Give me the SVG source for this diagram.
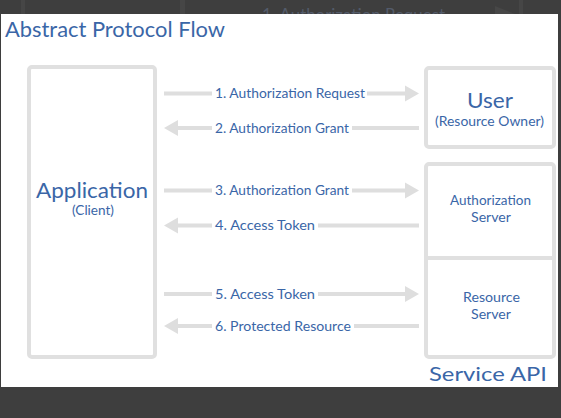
<svg xmlns="http://www.w3.org/2000/svg" width="561" height="418" viewBox="0 0 561 418">
<defs>
<style>
.t{font-family:Lato,"Open Sans","Liberation Sans",sans-serif;fill:#3a66a7}
.box{fill:#ffffff;stroke:#e0e0e0;stroke-width:4}
.ln{stroke:#dedede;stroke-width:4;fill:none}
.hd{fill:#dedede}
.lbl{font-size:13px}
</style>
</defs>
<rect x="0" y="0" width="561" height="418" fill="#3e3e3e"/>
<g id="ghost">
<rect x="21" y="0" width="4" height="14" fill="#464646"/>
<rect x="180" y="0" width="5" height="14" fill="#464646"/>
<rect x="519" y="0" width="4" height="14" fill="#464646"/>
<text x="262" y="21" font-family="Lato,'Liberation Sans',sans-serif" font-size="17" fill="#535b6a" textLength="183" lengthAdjust="spacingAndGlyphs">1. Authorization Request</text>
<polygon points="495,6 515,14 495,14" fill="#474747"/>
</g>
<rect x="1" y="14" width="557" height="373" fill="#ffffff"/>
<text class="t" x="5" y="37" font-size="22" textLength="220" lengthAdjust="spacingAndGlyphs">Abstract Protocol Flow</text>
<g id="application">
<rect class="box" x="29" y="67" width="126" height="290" rx="3"/>
<text class="t" x="36" y="198" font-size="21" textLength="112" lengthAdjust="spacingAndGlyphs">Application</text>
<text class="t" x="72" y="215" font-size="12.5" textLength="42" lengthAdjust="spacingAndGlyphs">(Client)</text>
</g>
<g id="user">
<rect class="box" x="426" y="68" width="128" height="79" rx="3"/>
<text class="t" x="467" y="108" font-size="22" textLength="46" lengthAdjust="spacingAndGlyphs">User</text>
<text class="t" x="435" y="125.5" font-size="12.5" textLength="109" lengthAdjust="spacingAndGlyphs">(Resource Owner)</text>
</g>
<g id="service-api">
<rect class="box" x="426" y="164" width="128" height="193" rx="3"/>
<line x1="426" y1="258" x2="554" y2="258" stroke="#e0e0e0" stroke-width="4"/>
<text class="t" x="429" y="381" font-size="20" textLength="118" lengthAdjust="spacingAndGlyphs">Service API</text>
</g>
<g id="authorization-server">
<text class="t" x="450" y="205" font-size="13" textLength="81" lengthAdjust="spacingAndGlyphs">Authorization</text>
<text class="t" x="471" y="222" font-size="13" textLength="40" lengthAdjust="spacingAndGlyphs">Server</text>
</g>
<g id="resource-server">
<text class="t" x="463" y="302" font-size="13" textLength="57" lengthAdjust="spacingAndGlyphs">Resource</text>
<text class="t" x="471" y="318.5" font-size="13" textLength="40" lengthAdjust="spacingAndGlyphs">Server</text>
</g>
<g id="connectors">
<line class="ln" x1="164" y1="93.5" x2="212" y2="93.5"/>
<line class="ln" x1="367" y1="93.5" x2="406" y2="93.5"/>
<polygon class="hd" points="405,85.5 419,93.5 405,101.5"/>
<text class="t lbl" x="215" y="98" textLength="150" lengthAdjust="spacingAndGlyphs">1. Authorization Request</text>
<polygon class="hd" points="178,120 164,128 178,136"/>
<line class="ln" x1="177" y1="128" x2="212" y2="128"/>
<line class="ln" x1="352" y1="128" x2="419" y2="128"/>
<text class="t lbl" x="215" y="132.5" textLength="134" lengthAdjust="spacingAndGlyphs">2. Authorization Grant</text>
<line class="ln" x1="164" y1="190.5" x2="212" y2="190.5"/>
<line class="ln" x1="352" y1="190.5" x2="406" y2="190.5"/>
<polygon class="hd" points="405,182.5 419,190.5 405,198.5"/>
<text class="t lbl" x="215" y="195" textLength="134" lengthAdjust="spacingAndGlyphs">3. Authorization Grant</text>
<polygon class="hd" points="178,217.5 164,225.5 178,233.5"/>
<line class="ln" x1="177" y1="225.5" x2="212" y2="225.5"/>
<line class="ln" x1="318" y1="225.5" x2="419" y2="225.5"/>
<text class="t lbl" x="215" y="230" textLength="100" lengthAdjust="spacingAndGlyphs">4. Access Token</text>
<line class="ln" x1="164" y1="294" x2="212" y2="294"/>
<line class="ln" x1="318" y1="294" x2="406" y2="294"/>
<polygon class="hd" points="405,286 419,294 405,302"/>
<text class="t lbl" x="215" y="298.5" textLength="100" lengthAdjust="spacingAndGlyphs">5. Access Token</text>
<polygon class="hd" points="178,318 164,326 178,334"/>
<line class="ln" x1="177" y1="326" x2="212" y2="326"/>
<line class="ln" x1="354" y1="326" x2="419" y2="326"/>
<text class="t lbl" x="215" y="330.5" textLength="136" lengthAdjust="spacingAndGlyphs">6. Protected Resource</text>
</g>
</svg>
